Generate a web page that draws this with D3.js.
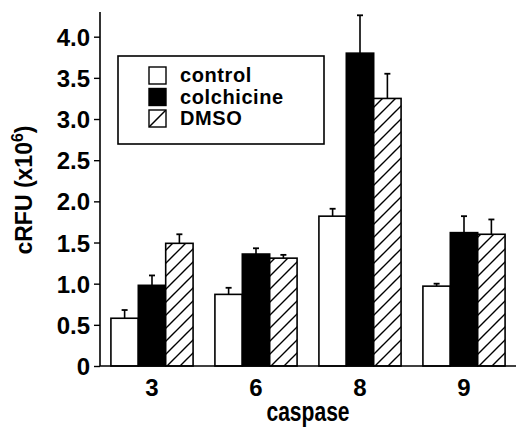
<!DOCTYPE html>
<html><head><meta charset="utf-8">
<script src="https://cdn.jsdelivr.net/npm/d3@7"></script>
<style>body{margin:0;background:#fff}svg{display:block}text{font-family:"Liberation Sans",Arial,Helvetica,sans-serif;font-weight:bold;fill:#000}</style>
</head><body><div id="chart"></div>
<script>
const categories = ["3", "6", "8", "9"];
const seriesNames = ["control", "colchicine", "DMSO"];
const controlValues = [0.58, 0.87, 1.82, 0.97];
const colchicineValues = [0.98, 1.36, 3.80, 1.62];
const dmsoValues = [1.49, 1.31, 3.25, 1.60];
const controlErrTop = [0.68, 0.95, 1.91, 1.00];
const colchicineErrTop = [1.10, 1.43, 4.26, 1.82];
const dmsoErrTop = [1.60, 1.35, 3.55, 1.78];
const yTicks = [0, 0.5, 1.0, 1.5, 2.0, 2.5, 3.0, 3.5, 4.0];

const W = 518, H = 427;
const svg = d3.select("#chart").append("svg").attr("width", W).attr("height", H);
const defs = svg.append("defs");
const hp = defs.append("pattern").attr("id","hatch").attr("patternUnits","userSpaceOnUse").attr("width",13).attr("height",13);
hp.append("rect").attr("width",13).attr("height",13).attr("fill","#fff");
hp.append("path").attr("d","M-2,2 L2,-2 M0,13 L13,0 M11,15 L15,11").attr("stroke","#000").attr("stroke-width",1.4);
const lp = defs.append("pattern").attr("id","hatchL").attr("patternUnits","objectBoundingBox").attr("width",1).attr("height",1).attr("patternContentUnits","objectBoundingBox");
lp.append("rect").attr("width",1).attr("height",1).attr("fill","#fff");
lp.append("path").attr("d","M0,1 L1,0").attr("stroke","#000").attr("stroke-width",0.09);

const x = d3.scaleBand().domain(categories).range([100, 516]).paddingInner(0.21).paddingOuter(0.105);
const xs = d3.scaleBand().domain(seriesNames).range([0, x.bandwidth()]);
const y = d3.scaleLinear().domain([0, 4.3]).range([366, 12]);

const series = [
  {name:"control", vals:controlValues, err:controlErrTop, fill:"#fff"},
  {name:"colchicine", vals:colchicineValues, err:colchicineErrTop, fill:"#000"},
  {name:"DMSO", vals:dmsoValues, err:dmsoErrTop, fill:"url(#hatch)"}
];

series.forEach(s => {
  const g = svg.append("g");
  categories.forEach((c,i) => {
    const cx = x(c) + xs(s.name) + xs.bandwidth()/2;
    g.append("line").attr("x1",cx).attr("x2",cx).attr("y1",y(s.vals[i])).attr("y2",y(s.err[i])).attr("stroke","#000").attr("stroke-width",1.6);
    g.append("line").attr("x1",cx-3).attr("x2",cx+3).attr("y1",y(s.err[i])).attr("y2",y(s.err[i])).attr("stroke","#000").attr("stroke-width",1.8);
  });
});
series.forEach(s => {
  svg.append("g").selectAll("rect").data(categories).join("rect")
    .attr("x", c => x(c) + xs(s.name))
    .attr("width", xs.bandwidth())
    .attr("y", (c,i) => y(s.vals[i]))
    .attr("height", (c,i) => y(0) - y(s.vals[i]))
    .attr("fill", s.fill).attr("stroke","#000").attr("stroke-width",1.6);
});

const yAxis = d3.axisLeft(y).tickValues(yTicks).tickSize(6).tickPadding(4)
  .tickFormat(d => d === 0 ? "0" : d3.format(".1f")(d));
const gy = svg.append("g").attr("transform","translate(100,0)").call(yAxis);
gy.select(".domain").remove();
gy.append("line").attr("x1",0).attr("x2",0).attr("y1",12).attr("y2",366).attr("stroke","#000").attr("stroke-width",1.6);
gy.selectAll(".tick line").attr("stroke","#000").attr("stroke-width",1.4);
gy.selectAll(".tick text").attr("font-size",24).attr("font-family","Liberation Sans, Arial, sans-serif").attr("font-weight","bold").attr("dy","0.36em");

const xAxis = d3.axisBottom(x).tickSize(0).tickPadding(13);
const gx = svg.append("g").attr("transform","translate(0,366)").call(xAxis);
gx.select(".domain").remove();
gx.append("line").attr("x1",100).attr("x2",516).attr("y1",0).attr("y2",0).attr("stroke","#000").attr("stroke-width",1.6);
gx.selectAll(".tick text").attr("font-size",24).attr("font-family","Liberation Sans, Arial, sans-serif").attr("font-weight","bold");

svg.append("text").attr("transform","translate(308,421) scale(0.78,1)").attr("text-anchor","middle")
  .attr("font-size",27).style("font-weight","bold").text("caspase");
const yt = svg.append("text").attr("transform","translate(32,190) rotate(-90)").attr("text-anchor","middle").attr("font-size",23);
yt.append("tspan").text("cRFU (x10");
yt.append("tspan").attr("font-size",16).attr("dy",-9).text("6");
yt.append("tspan").attr("dy",9).text(")");

const lg = svg.append("g");
lg.append("rect").attr("x",118).attr("y",56).attr("width",206).attr("height",88).attr("fill","#fff").attr("stroke","#000").attr("stroke-width",1.6);
const legFills = ["#fff","#000","url(#hatchL)"];
seriesNames.forEach((n,i) => {
  const top = 67 + i*21.5;
  lg.append("rect").attr("x",149).attr("y",top).attr("width",17).attr("height",17).attr("fill",legFills[i]).attr("stroke","#000").attr("stroke-width",1.4);
  lg.append("text").attr("x",180).attr("y",top+15).attr("font-size",20).attr("letter-spacing",0.6).text(n);
});
</script></body></html>
